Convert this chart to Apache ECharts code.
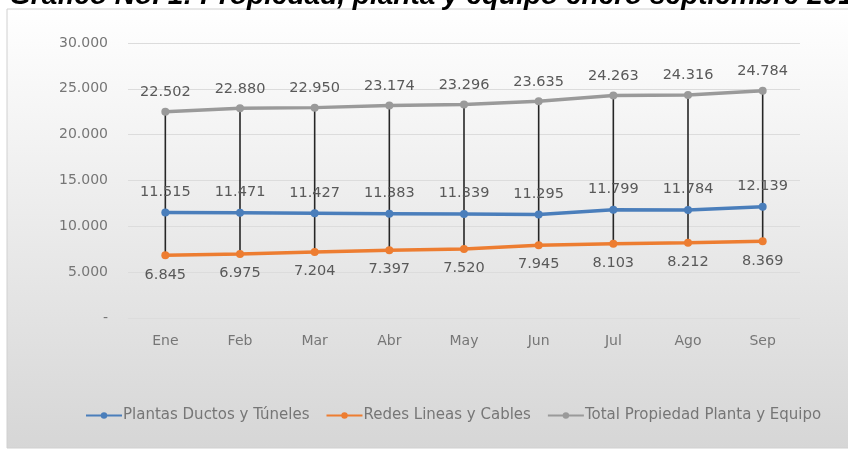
<!DOCTYPE html>
<html>
<head>
<meta charset="utf-8">
<script src="https://cdn.jsdelivr.net/npm/echarts@6/dist/echarts.min.js"></script>
<style>
  html, body { margin: 0; padding: 0; background: #fff; }
  #chart { width: 848px; height: 450px; }
</style>
</head>
<body>
<div id="chart"></div>
<script>
// datos (miles)
var meses = ['Ene', 'Feb', 'Mar', 'Abr', 'May', 'Jun', 'Jul', 'Ago', 'Sep']
var plantasDuctos = [11515, 11471, 11427, 11383, 11339, 11295, 11799, 11784, 12139]
var redesLineas = [6845, 6975, 7204, 7397, 7520, 7945, 8103, 8212, 8369]
var totalPropiedad = [22502, 22880, 22950, 23174, 23296, 23635, 24263, 24316, 24784]
var yTicks = [0, 5000, 10000, 15000, 20000, 25000, 30000]

var fuente = 'DejaVu Sans'
var gris = '#767676'

function miles(v) {
  if (v === 0) return '-'
  return String(v).replace(/\B(?=(\d{3})+(?!\d))/g, '.')
}

var chart = echarts.init(document.getElementById('chart'))
chart.setOption({
  animation: false,
  title: {
    text: 'Gráfico No. 1: Propiedad, planta y equipo enero septiembre 2014',
    left: 4,
    top: -23,
    textStyle: { fontFamily: 'Liberation Sans', fontStyle: 'italic', fontWeight: 'bold', fontSize: 28, color: '#000' }
  },
  graphic: [{
    type: 'rect',
    z: -10,
    shape: { x: 7, y: 9, width: 850, height: 439 },
    style: {
      fill: new echarts.graphic.LinearGradient(0, 0, 0, 1, [
        { offset: 0, color: '#ffffff' },
        { offset: 1, color: '#d6d6d6' }
      ]),
      stroke: '#d0d0d0',
      lineWidth: 1
    }
  }],
  grid: { left: 128, right: 48, top: 43, bottom: 132 },
  legend: {
    bottom: 22,
    left: 80,
    itemGap: 16,
    itemWidth: 36,
    itemHeight: 8,
    data: ['Plantas Ductos y Túneles', 'Redes Lineas y Cables', 'Total Propiedad Planta y Equipo'],
    textStyle: { fontFamily: fuente, fontSize: 15, color: gris, padding: [0, 0, 0, -4] }
  },
  xAxis: {
    type: 'category',
    data: meses,
    axisLine: { show: false },
    axisTick: { show: false },
    axisLabel: { margin: 16, fontFamily: fuente, fontSize: 14, color: gris }
  },
  yAxis: {
    type: 'value',
    min: 0,
    max: 30000,
    interval: 5000,
    axisLine: { show: false },
    axisTick: { show: false },
    splitLine: { lineStyle: { color: '#dcdcdc' } },
    axisLabel: {
      margin: 20,
      fontFamily: fuente,
      fontSize: 14,
      color: gris,
      formatter: function (v) { return yTicks.indexOf(v) >= 0 ? miles(v) : '' }
    }
  },
  series: [
    {
      // lineas de maximos y minimos
      type: 'custom',
      silent: true,
      z: 1,
      renderItem: function (params, api) {
        var arriba = api.coord([api.value(0), api.value(1)])
        var abajo = api.coord([api.value(0), api.value(2)])
        return {
          type: 'line',
          shape: { x1: arriba[0], y1: arriba[1], x2: abajo[0], y2: abajo[1] },
          style: { stroke: '#262626', lineWidth: 1.6 }
        }
      },
      encode: { x: 0, y: [1, 2] },
      data: meses.map(function (m, i) { return [i, totalPropiedad[i], redesLineas[i]] })
    },
    {
      name: 'Plantas Ductos y Túneles',
      type: 'line',
      data: plantasDuctos,
      z: 3,
      symbol: 'circle',
      symbolSize: 8,
      color: '#4a7ebb',
      lineStyle: { width: 3.5, color: '#4a7ebb' },
      label: {
        show: true, position: 'top', distance: 9,
        fontFamily: fuente, fontSize: 14.5, color: '#595959',
        formatter: function (p) { return miles(p.value) }
      }
    },
    {
      name: 'Redes Lineas y Cables',
      type: 'line',
      data: redesLineas,
      z: 3,
      symbol: 'circle',
      symbolSize: 8,
      color: '#ed7d31',
      lineStyle: { width: 3.5, color: '#ed7d31' },
      label: {
        show: true, position: 'bottom', distance: 8,
        fontFamily: fuente, fontSize: 14.5, color: '#595959',
        formatter: function (p) { return miles(p.value) }
      }
    },
    {
      name: 'Total Propiedad Planta y Equipo',
      type: 'line',
      data: totalPropiedad,
      z: 3,
      symbol: 'circle',
      symbolSize: 8,
      color: '#9a9a9a',
      lineStyle: { width: 3.5, color: '#9a9a9a' },
      label: {
        show: true, position: 'top', distance: 8,
        fontFamily: fuente, fontSize: 14.5, color: '#595959',
        formatter: function (p) { return miles(p.value) }
      }
    }
  ]
})
</script>
</body>
</html>
